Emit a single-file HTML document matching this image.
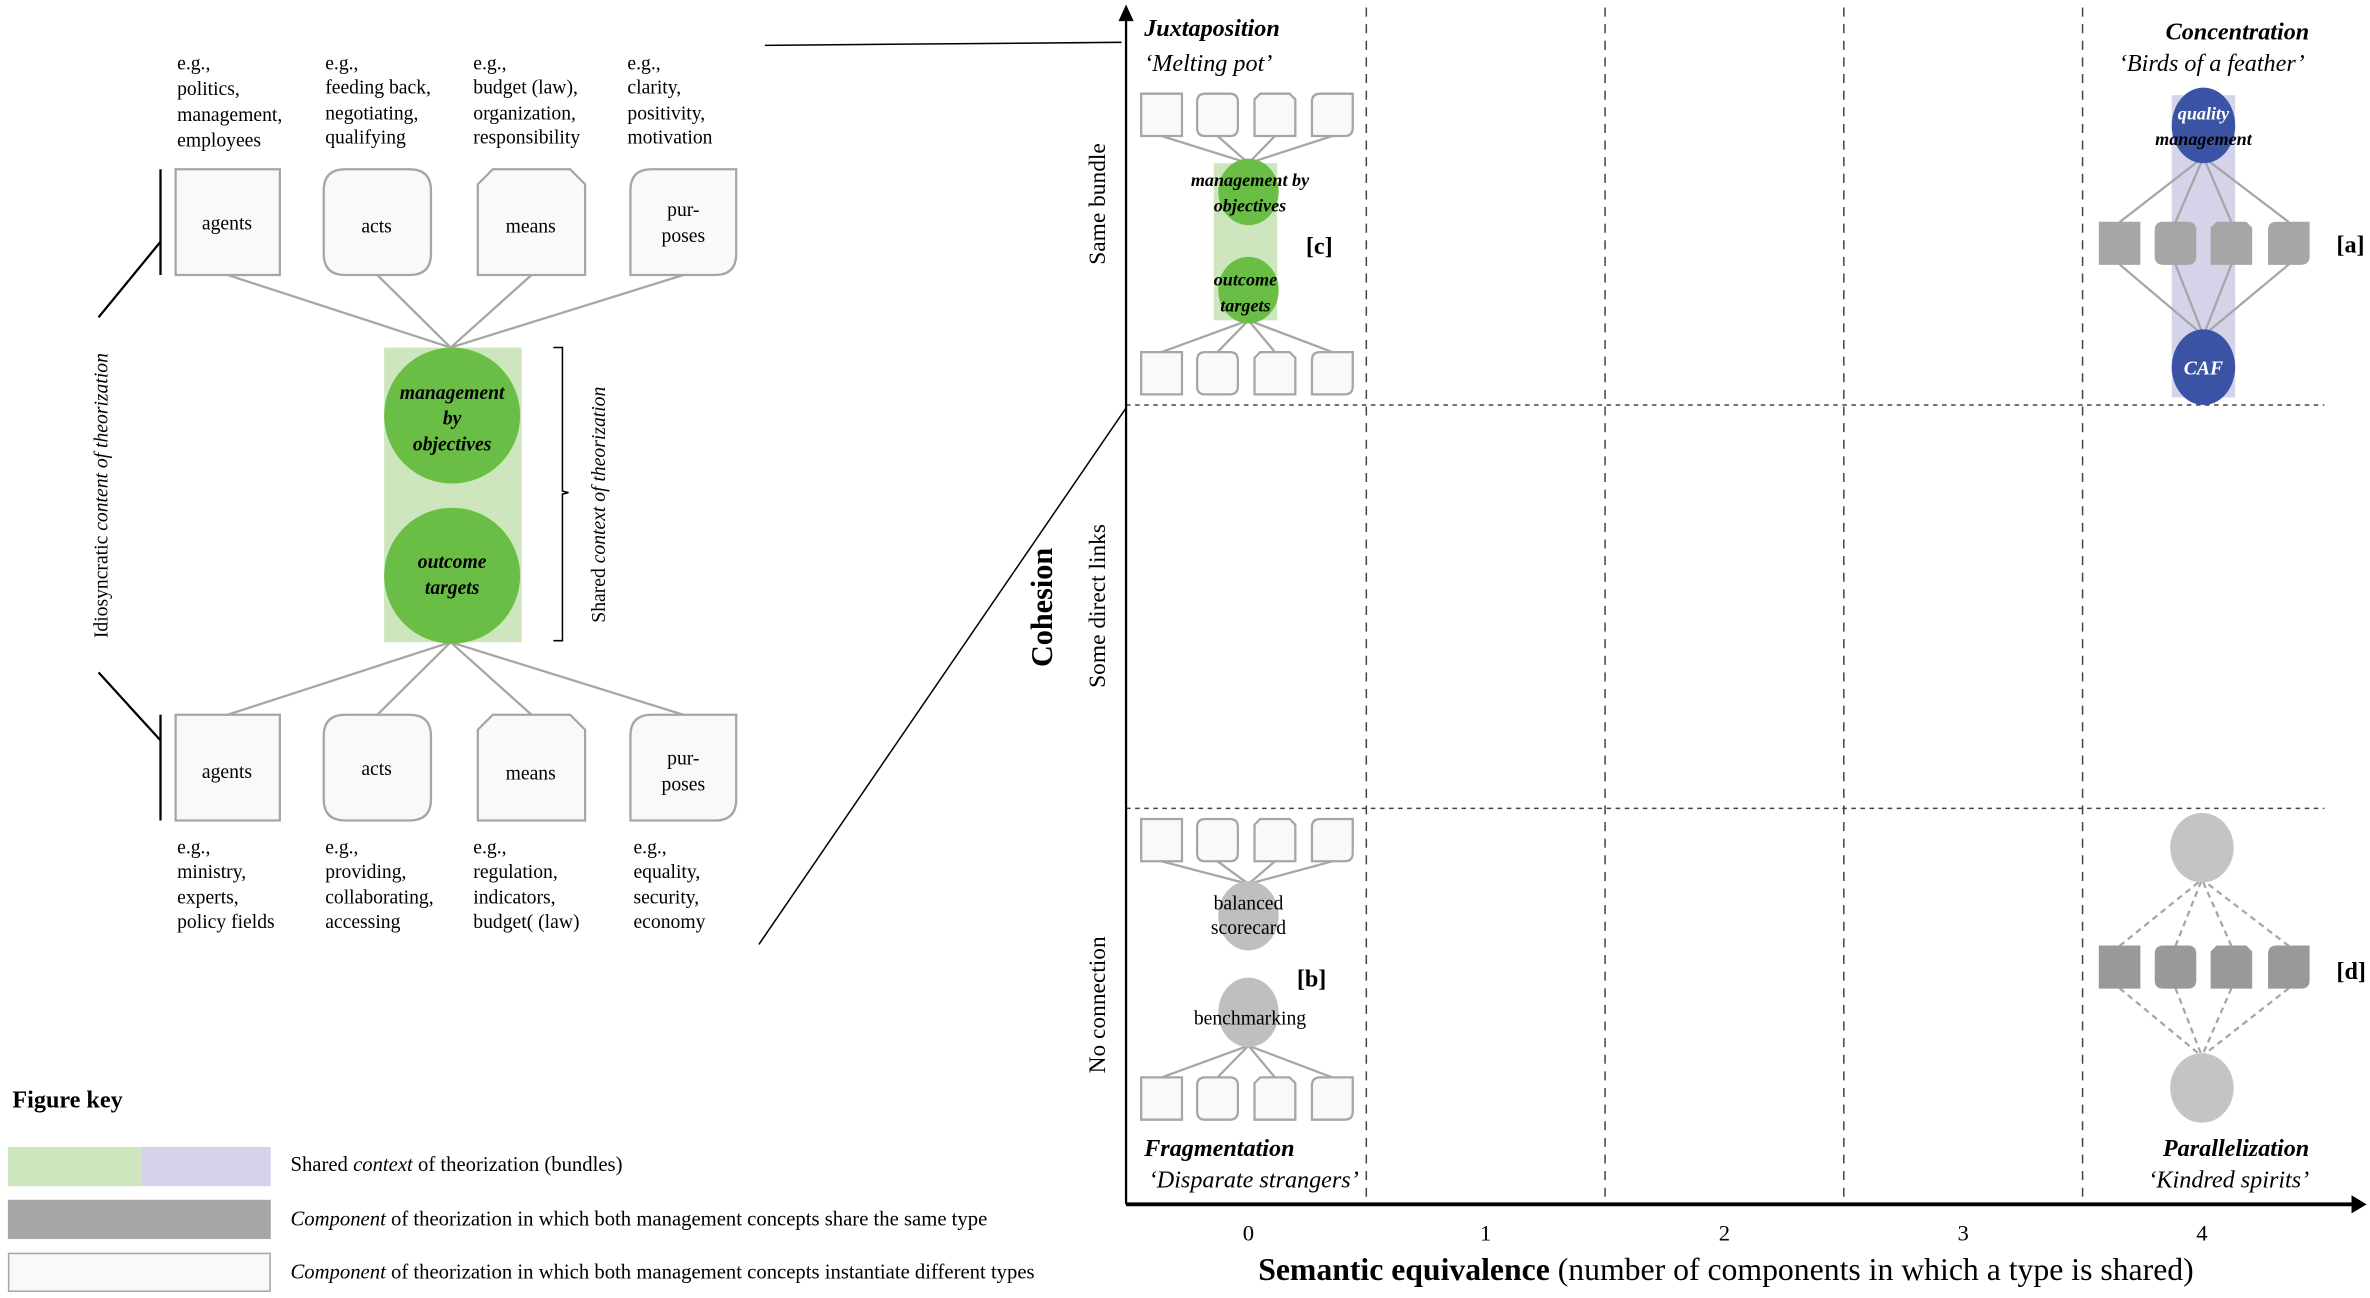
<!DOCTYPE html>
<html><head><meta charset="utf-8"><style>
html,body{margin:0;padding:0;background:#fff;}
svg{display:block;font-family:"Liberation Serif",serif;}
</style></head><body>
<svg id="s" width="2370" height="1298" viewBox="0 0 1568 859" xmlns="http://www.w3.org/2000/svg">
<rect width="1568" height="859" fill="#fff"/>
<g id="shapes"></g>
<!-- left figure -->
<rect x="254" y="230" width="91" height="195" fill="#cde6bd"/>
<ellipse cx="299" cy="275" rx="45" ry="45" fill="#6abd45"/>
<ellipse cx="299" cy="381" rx="45" ry="45" fill="#6abd45"/>
<g font-style="italic" font-weight="bold" font-size="13" text-anchor="middle">
<text x="299" y="264">management</text><text x="299" y="281">by</text><text x="299" y="298">objectives</text>
<text x="299" y="376">outcome</text><text x="299" y="393">targets</text>
</g>
<g font-size="13" text-anchor="middle">
<text x="150" y="152">agents</text><text x="249" y="154">acts</text><text x="351" y="154">means</text>
<text x="452" y="143">pur-</text><text x="452" y="160">poses</text>
<text x="150" y="515">agents</text><text x="249" y="513">acts</text><text x="351" y="516">means</text>
<text x="452" y="506">pur-</text><text x="452" y="523">poses</text>
</g>
<g font-size="13">
<text x="117" y="46">e.g.,</text><text x="117" y="63">politics,</text><text x="117" y="80">management,</text><text x="117" y="97">employees</text>
<text x="215" y="46">e.g.,</text><text x="215" y="62">feeding back,</text><text x="215" y="79">negotiating,</text><text x="215" y="95">qualifying</text>
<text x="313" y="46">e.g.,</text><text x="313" y="62">budget (law),</text><text x="313" y="79">organization,</text><text x="313" y="95">responsibility</text>
<text x="415" y="46">e.g.,</text><text x="415" y="62">clarity,</text><text x="415" y="79">positivity,</text><text x="415" y="95">motivation</text>
<text x="117" y="565">e.g.,</text><text x="117" y="581">ministry,</text><text x="117" y="598">experts,</text><text x="117" y="614">policy fields</text>
<text x="215" y="565">e.g.,</text><text x="215" y="581">providing,</text><text x="215" y="598">collaborating,</text><text x="215" y="614">accessing</text>
<text x="313" y="565">e.g.,</text><text x="313" y="581">regulation,</text><text x="313" y="598">indicators,</text><text x="313" y="614">budget( (law)</text>
<text x="419" y="565">e.g.,</text><text x="419" y="581">equality,</text><text x="419" y="598">security,</text><text x="419" y="614">economy</text>
</g>
<g stroke="#000" stroke-width="1.5" fill="none">
<line x1="106" y1="112" x2="106" y2="182"/><line x1="106" y1="160" x2="65" y2="210"/>
<line x1="106" y1="473" x2="106" y2="543"/><line x1="106" y1="490" x2="65" y2="445"/>
</g>
<path d="M366 230 H372 V325 L376 326 L372 327 V424 H366" stroke="#000" fill="none"/>
<text transform="translate(71,328) rotate(-90)" font-size="13" text-anchor="middle">Idiosyncratic <tspan font-style="italic">content of theorization</tspan></text>
<text transform="translate(400,334) rotate(-90)" font-size="13" text-anchor="middle">Shared <tspan font-style="italic">context of theorization</tspan></text>
<line x1="506" y1="30" x2="742" y2="28" stroke="#000"/>
<line x1="502" y1="625" x2="745" y2="270" stroke="#000"/>

<!-- main chart -->
<g stroke="#444" stroke-dasharray="6,5" stroke-width="1">
<line x1="904" y1="5" x2="904" y2="797"/><line x1="1062" y1="5" x2="1062" y2="797"/>
<line x1="1220" y1="5" x2="1220" y2="797"/><line x1="1378" y1="5" x2="1378" y2="797"/>
<line x1="745" y1="268" x2="1538" y2="268" stroke-dasharray="3,3"/>
<line x1="745" y1="535" x2="1538" y2="535" stroke-dasharray="3,3"/>
</g>
<line x1="745" y1="797" x2="745" y2="12" stroke="#000" stroke-width="1.5"/>
<path d="M740 14 L745 3 L750 14Z" fill="#000"/>
<line x1="745" y1="797" x2="1558" y2="797" stroke="#000" stroke-width="2.5"/>
<path d="M1556 791 L1566 797 L1556 803Z" fill="#000"/>
<g font-size="15" text-anchor="middle">
<text x="826" y="821">0</text><text x="983" y="821">1</text><text x="1141" y="821">2</text><text x="1299" y="821">3</text><text x="1457" y="821">4</text>
<text x="1142" y="847" font-size="21"><tspan font-weight="bold">Semantic equivalence</tspan> (number of components in which a type is shared)</text>
</g>
<text transform="translate(696,402) rotate(-90)" font-size="20" font-weight="bold" text-anchor="middle">Cohesion</text>
<g font-size="15.5" text-anchor="middle">
<text transform="translate(731,135) rotate(-90)">Same bundle</text>
<text transform="translate(731,401) rotate(-90)">Some direct links</text>
<text transform="translate(731,665) rotate(-90)">No connection</text>
</g>
<g font-size="16" font-style="italic">
<text x="757" y="24" font-weight="bold">Juxtaposition</text><text x="757" y="47">‘Melting pot’</text>
<text x="1528" y="26" font-weight="bold" text-anchor="end">Concentration</text><text x="1525" y="47" text-anchor="end">‘Birds of a feather’</text>
<text x="757" y="765" font-weight="bold">Fragmentation</text><text x="760" y="786">‘Disparate strangers’</text>
<text x="1528" y="765" font-weight="bold" text-anchor="end">Parallelization</text><text x="1528" y="786" text-anchor="end">‘Kindred spirits’</text>
</g>
<!-- [c] -->
<rect x="803" y="108" width="42" height="104" fill="#cde6bd"/>
<ellipse cx="826" cy="127" rx="20" ry="22" fill="#6abd45"/>
<ellipse cx="826" cy="192" rx="20" ry="22" fill="#6abd45"/>
<g font-size="12" font-style="italic" font-weight="bold" text-anchor="middle">
<text x="827" y="123">management by</text><text x="827" y="140">objectives</text>
<text x="824" y="189">outcome</text><text x="824" y="206">targets</text>
</g>
<!-- [a] -->
<rect x="1437" y="63" width="42" height="200" fill="#d4d3ea"/>
<g id="ga"></g>
<ellipse cx="1458" cy="83" rx="21" ry="25" fill="#3a53a4"/>
<ellipse cx="1458" cy="243" rx="21" ry="25" fill="#3a53a4"/>
<g font-size="12" font-style="italic" font-weight="bold" text-anchor="middle">
<text x="1458" y="79" fill="#fff">quality</text><text x="1458" y="96" fill="#000">management</text>
<text x="1458" y="248" fill="#fff" font-size="13">CAF</text>
</g>
<!-- [b] -->
<ellipse cx="826" cy="606" rx="20" ry="23" fill="#bfbfbf"/>
<ellipse cx="826" cy="670" rx="20" ry="23" fill="#bfbfbf"/>
<g font-size="13" text-anchor="middle">
<text x="826" y="602">balanced</text><text x="826" y="618">scorecard</text>
<text x="827" y="678">benchmarking</text>
</g>
<!-- [d] -->
<ellipse cx="1457" cy="561" rx="21" ry="23" fill="#c4c4c4"/>
<ellipse cx="1457" cy="720" rx="21" ry="23" fill="#c4c4c4"/>
<g font-size="16" font-weight="bold">
<text x="864" y="168">[c]</text><text x="1546" y="167">[a]</text>
<text x="858" y="653">[b]</text><text x="1546" y="648">[d]</text>
</g>
<!-- legend -->
<text x="8" y="733" font-size="16" font-weight="bold">Figure key</text>
<rect x="5" y="759" width="88" height="26" fill="#cde6bd"/>
<rect x="93" y="759" width="86" height="26" fill="#d4d3ea"/>
<rect x="5" y="794" width="174" height="26" fill="#a6a6a6"/>
<rect x="5.5" y="829.5" width="173" height="25" fill="#f8f9fb" stroke="#a6a6a6"/>
<g font-size="13.7">
<text x="192" y="775">Shared <tspan font-style="italic">context</tspan> of theorization (bundles)</text>
<text x="192" y="811"><tspan font-style="italic">Component</tspan> of theorization in which both management concepts share the same type</text>
<text x="192" y="846"><tspan font-style="italic">Component</tspan> of theorization in which both management concepts instantiate different types</text>
</g>
</svg>
<script>
var ns='http://www.w3.org/2000/svg',g;
function el(n,a){var e=document.createElementNS(ns,n);for(var k in a)e.setAttribute(k,a[k]);g.appendChild(e);return e;}
function shp(t,x,y,w,h,fill,stroke,sw){
 var d,r=w*0.2,c=w*0.14;
 if(t==0)d='M'+x+' '+y+'h'+w+'v'+h+'h'+(-w)+'Z';
 else if(t==1)d='M'+(x+r)+' '+y+'H'+(x+w-r)+'Q'+(x+w)+' '+y+' '+(x+w)+' '+(y+r)+'V'+(y+h-r)+'Q'+(x+w)+' '+(y+h)+' '+(x+w-r)+' '+(y+h)+'H'+(x+r)+'Q'+x+' '+(y+h)+' '+x+' '+(y+h-r)+'V'+(y+r)+'Q'+x+' '+y+' '+(x+r)+' '+y+'Z';
 else if(t==2)d='M'+(x+c)+' '+y+'H'+(x+w-c)+'L'+(x+w)+' '+(y+c)+'V'+(y+h)+'H'+x+'V'+(y+c)+'Z';
 else d='M'+(x+r)+' '+y+'H'+(x+w)+'V'+(y+h-r)+'Q'+(x+w)+' '+(y+h)+' '+(x+w-r)+' '+(y+h)+'H'+x+'V'+(y+r)+'Q'+x+' '+y+' '+(x+r)+' '+y+'Z';
 el('path',{d:d,fill:fill,stroke:stroke,'stroke-width':sw||1.5});
}
function ln(x1,y1,x2,y2,dash){var a={x1:x1,y1:y1,x2:x2,y2:y2,stroke:'#a6a6a6','stroke-width':1.5};if(dash)a['stroke-dasharray']='4,3';el('line',a);}
g=document.getElementById('shapes');
var LX=[116,214,316,417],LW=[69,71,71,70];
for(var i=0;i<4;i++){var cx=LX[i]+LW[i]/2;ln(cx,182,298,230);ln(cx,473,298,425);}
for(var i=0;i<4;i++){shp(i,LX[i],112,LW[i],70,'#f8f9fb','#a6a6a6');shp(i,LX[i],473,LW[i],70,'#f8f9fb','#a6a6a6');}
var SX=[755,792,830,868];
function group(y,fill,stroke,cy,dir,dash){
 for(var i=0;i<4;i++){var cx=SX[i]+13.5;ln(cx,dir>0?y+28:y,826,cy,dash);}
 for(var i=0;i<4;i++)shp(i,SX[i],y,27,28,fill,stroke,1.5);
}
group(62,'#f8f9fb','#a6a6a6',108,1);group(233,'#f8f9fb','#a6a6a6',212,-1);
group(542,'#f8f9fb','#a6a6a6',585,1);group(713,'#f8f9fb','#a6a6a6',692,-1);
var AX=[1389,1426,1463,1501];
for(var i=0;i<4;i++){var cx=AX[i]+13.5;ln(cx,626,1457,582,1);ln(cx,654,1457,699,1);}
for(var i=0;i<4;i++)shp(i,AX[i],626,27,28,'#999','#999',0.5);
g=document.getElementById('ga');
for(var i=0;i<4;i++){var cx=AX[i]+13.5;ln(cx,147,1458,104);ln(cx,175,1458,222);}
for(var i=0;i<4;i++)shp(i,AX[i],147,27,28,'#a6a6a6','#a6a6a6',0.5);
</script>
</body></html>
